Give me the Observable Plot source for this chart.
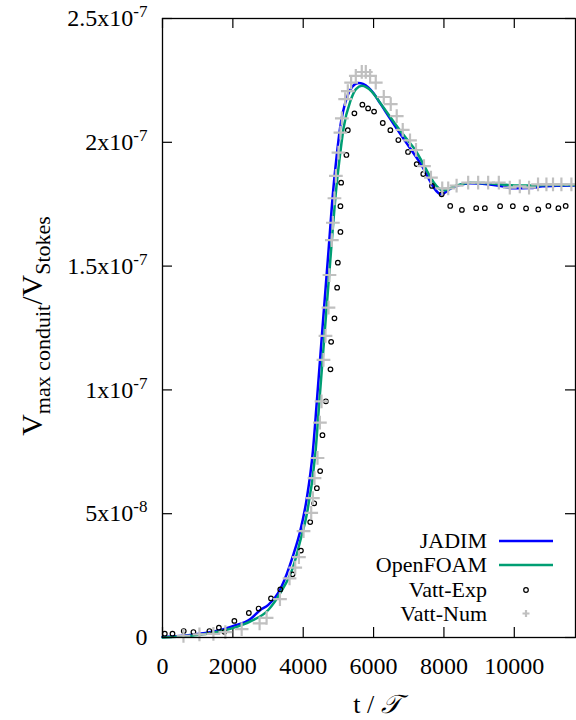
<!DOCTYPE html>
<html><head><meta charset="utf-8">
<script src="https://cdn.jsdelivr.net/npm/d3@7"></script>
<script src="https://cdn.jsdelivr.net/npm/@observablehq/plot@0.6"></script>
<style>body{margin:0;background:#fff} svg, svg text {font-family: "Liberation Serif", "Times New Roman", Tinos, "DejaVu Serif", serif !important;}</style>
</head><body><div id="chart"></div>
<script>
const xTicks = [0, 2000, 4000, 6000, 8000, 10000];
const yTicks = [0, 5e-8, 1e-7, 1.5e-7, 2e-7, 2.5e-7];
const yTickLabels = ["0", "5x10^-8", "1x10^-7", "1.5x10^-7", "2x10^-7", "2.5x10^-7"];

const jadimT = [0, 500, 1000, 1500, 2000, 2500, 2780, 3000, 3350, 3725, 3915, 4105, 4275, 4388, 4550, 4718, 4842, 4936, 5050, 5240, 5400, 5570, 5700, 5850, 6000, 6184, 6705, 7300, 7935, 8150, 8360, 8738, 9305, 9650, 9966, 10440, 10800, 11200, 11700];
const jadimV = [2e-10, 6e-10, 1.4e-9, 2.5e-9, 4.6e-9, 7.5e-9, 1.11e-8, 1.31e-8, 1.96e-8, 3.37e-8, 4.3e-8, 5.65e-8, 7.53e-8, 9.55e-8, 1.255e-7, 1.56e-7, 1.79e-7, 1.925e-7, 2.06e-7, 2.18e-7, 2.225e-7, 2.24e-7, 2.236e-7, 2.222e-7, 2.198e-7, 2.158e-7, 2.045e-7, 1.922e-7, 1.79e-7, 1.81e-7, 1.824e-7, 1.835e-7, 1.83e-7, 1.822e-7, 1.814e-7, 1.815e-7, 1.822e-7, 1.825e-7, 1.826e-7];

const foamT = [0, 500, 1000, 1500, 2000, 2500, 3000, 3350, 3725, 3915, 4105, 4350, 4460, 4620, 4790, 4930, 5030, 5150, 5350, 5500, 5665, 5800, 5950, 6184, 6700, 7140, 7990, 8350, 8750, 9300, 10000, 10500, 11000, 11700];
const foamV = [0, 4e-10, 1.0e-9, 2.1e-9, 3.8e-9, 6.5e-9, 1.1e-8, 1.8e-8, 2.9e-8, 3.9e-8, 5.0e-8, 7.5e-8, 9.55e-8, 1.25e-7, 1.56e-7, 1.8e-7, 1.93e-7, 2.06e-7, 2.17e-7, 2.215e-7, 2.228e-7, 2.222e-7, 2.205e-7, 2.16e-7, 2.058e-7, 1.978e-7, 1.806e-7, 1.825e-7, 1.837e-7, 1.835e-7, 1.826e-7, 1.826e-7, 1.828e-7, 1.828e-7];

const expT = [65, 284, 604, 879, 1333, 1603, 1759, 2043, 2454, 2732, 3084, 3348, 3697, 3935, 4199, 4312, 4388, 4482, 4547, 4644, 4775, 4794, 4888, 4964, 4984, 5058, 5058, 5078, 5228, 5268, 5455, 5682, 5844, 6014, 6261, 6477, 6704, 6979, 7226, 7413, 7660, 7935, 8179, 8511, 8917, 9163, 9597, 9958, 10335, 10681, 10970, 11254, 11461];
const expV = [1.53e-9, 1.53e-9, 2.6e-9, 2.2e-9, 2.6e-9, 3.96e-9, 2.3e-9, 6.7e-9, 9.9e-9, 1.17e-8, 1.58e-8, 1.94e-8, 2.55e-8, 3.51e-8, 4.66e-8, 5.42e-8, 6.03e-8, 6.72e-8, 8.17e-8, 9.54e-8, 1.083e-7, 1.194e-7, 1.289e-7, 1.413e-7, 1.514e-7, 1.638e-7, 1.742e-7, 1.837e-7, 1.949e-7, 2.049e-7, 2.117e-7, 2.152e-7, 2.137e-7, 2.124e-7, 2.078e-7, 2.049e-7, 2.009e-7, 1.961e-7, 1.912e-7, 1.872e-7, 1.824e-7, 1.79e-7, 1.743e-7, 1.727e-7, 1.734e-7, 1.734e-7, 1.742e-7, 1.742e-7, 1.733e-7, 1.729e-7, 1.743e-7, 1.734e-7, 1.743e-7];

const numT = [596, 1050, 1447, 1787, 2250, 2760, 2959, 3339, 3611, 3773, 3878, 4009, 4227, 4275, 4321, 4406, 4474, 4520, 4576, 4633, 4718, 4746, 4814, 4843, 4888, 4928, 5002, 5058, 5098, 5192, 5268, 5362, 5495, 5665, 5779, 5901, 6062, 6290, 6488, 6658, 6829, 7036, 7206, 7433, 7631, 7952, 8122, 8360, 8689, 8973, 9257, 9560, 9872, 10156, 10420, 10675, 10914, 11101, 11339, 11623];
const numV = [7e-10, 1.3e-9, 1.5e-9, 2.2e-9, 3.4e-9, 5.7e-9, 7.9e-9, 1.55e-8, 2.39e-8, 2.82e-8, 3.25e-8, 4.3e-8, 5.03e-8, 5.63e-8, 6.44e-8, 7.25e-8, 8.68e-8, 9.54e-8, 1.121e-7, 1.218e-7, 1.332e-7, 1.464e-7, 1.605e-7, 1.675e-7, 1.774e-7, 1.864e-7, 1.958e-7, 2.039e-7, 2.097e-7, 2.174e-7, 2.207e-7, 2.241e-7, 2.268e-7, 2.284e-7, 2.284e-7, 2.268e-7, 2.241e-7, 2.183e-7, 2.154e-7, 2.106e-7, 2.05e-7, 2.008e-7, 1.969e-7, 1.904e-7, 1.857e-7, 1.814e-7, 1.814e-7, 1.825e-7, 1.837e-7, 1.837e-7, 1.837e-7, 1.837e-7, 1.817e-7, 1.822e-7, 1.817e-7, 1.83e-7, 1.83e-7, 1.83e-7, 1.83e-7, 1.83e-7];

const series = [
  {name: "JADIM", color: "#0000ff"},
  {name: "OpenFOAM", color: "#009e73"},
  {name: "Vatt-Exp", color: "#000000"},
  {name: "Vatt-Num", color: "#c0c0c0"}
];

const zip = (T, V) => T.map((t, i) => ({t, v: V[i]}));
const jadim = zip(jadimT, jadimV);
const foam = zip(foamT, foamV);
const exp = zip(expT, expV);
const num = zip(numT, numV);

const W = 576, H = 720, ML = 162, MR = 1, MT = 18, MB = 83;
const pw = W - ML - MR, ph = H - MT - MB, tk = 10;
const FONT = '"Liberation Serif", "Times New Roman", Tinos, "DejaVu Serif", serif';

const svg = Plot.plot({
  width: W, height: H,
  marginLeft: ML, marginRight: MR, marginTop: MT, marginBottom: MB,
  style: {fontFamily: FONT, fontSize: "24px", color: "#000", background: "#fff"},
  x: {domain: [0, 11740]},
  y: {domain: [0, 2.5e-7]},
  marks: [
    Plot.axisX({ticks: xTicks, tickSize: 0, tickPadding: 19, tickFormat: d => String(d), fontSize: 24, label: null}),
    Plot.axisY({ticks: yTicks, tickSize: 0, tickPadding: 15, tickFormat: d => yTickLabels[yTicks.indexOf(d)], fontSize: 24, label: null}),
    Plot.tickX(xTicks, {x: d => d, insetTop: ph - tk, stroke: "#000", strokeWidth: 1.2}),
    Plot.tickX(xTicks, {x: d => d, insetBottom: ph - tk, stroke: "#000", strokeWidth: 1.2}),
    Plot.tickY(yTicks, {y: d => d, insetRight: pw - tk, stroke: "#000", strokeWidth: 1.2}),
    Plot.tickY(yTicks, {y: d => d, insetLeft: pw - tk, stroke: "#000", strokeWidth: 1.2}),
    Plot.line(jadim, {x: "t", y: "v", stroke: series[0].color, strokeWidth: 2.5, curve: "monotone-x"}),
    Plot.line(foam, {x: "t", y: "v", stroke: series[1].color, strokeWidth: 2.5, curve: "monotone-x"}),
    Plot.dot(exp, {x: "t", y: "v", r: 2.3, stroke: series[2].color, strokeWidth: 1.2, fill: "none"}),
    Plot.dot(num, {x: "t", y: "v", symbol: "plus", r: 4.5, stroke: series[3].color, strokeWidth: 2.2}),
    Plot.frame({stroke: "#000", strokeWidth: 1.3})
  ]
});

// superscripts in tick labels
svg.querySelectorAll("text").forEach(t => {
  const s = t.textContent;
  if (s.includes("^")) {
    const [base, ex] = s.split("^");
    const tgt = t.querySelector("tspan") || t;
    tgt.textContent = base;
    const sup = document.createElementNS("http://www.w3.org/2000/svg", "tspan");
    sup.setAttribute("dy", "-9");
    sup.setAttribute("font-size", "17");
    sup.textContent = ex;
    tgt.appendChild(sup);
  }
});

const g = d3.select(svg).append("g").style("font-family", FONT).attr("fill", "#000");
// legend
const legY = [541, 565, 590, 613.5];
series.forEach((s, i) => {
  g.append("text").attr("x", 487).attr("y", legY[i] + 7).attr("text-anchor", "end").attr("font-size", 22).text(s.name);
});
g.append("line").attr("x1", 499).attr("x2", 553).attr("y1", legY[0]).attr("y2", legY[0]).attr("stroke", series[0].color).attr("stroke-width", 2.5);
g.append("line").attr("x1", 499).attr("x2", 553).attr("y1", legY[1]).attr("y2", legY[1]).attr("stroke", series[1].color).attr("stroke-width", 2.5);
g.append("circle").attr("cx", 526).attr("cy", legY[2]).attr("r", 2.3).attr("fill", "none").attr("stroke", series[2].color).attr("stroke-width", 1.2);
g.append("path").attr("d", `M522.5,${legY[3]}h7M526,${legY[3]-3.5}v7`).attr("stroke", series[3].color).attr("stroke-width", 2.2);

// axis titles
g.append("text").attr("x", 377).attr("y", 713).attr("text-anchor", "middle").attr("font-size", 26)
  .html('t / <tspan font-style="italic">𝒯</tspan>');
const yl = g.append("text").attr("transform", "translate(41.5,326) rotate(-90)").attr("text-anchor", "middle").attr("font-size", 30);
yl.append("tspan").text("V");
yl.append("tspan").attr("font-size", 22).attr("dy", 8).text("max conduit");
yl.append("tspan").attr("dy", -8).text("/V");
yl.append("tspan").attr("font-size", 22).attr("dy", 8).text("Stokes");

document.getElementById("chart").appendChild(svg);
</script></body></html>
